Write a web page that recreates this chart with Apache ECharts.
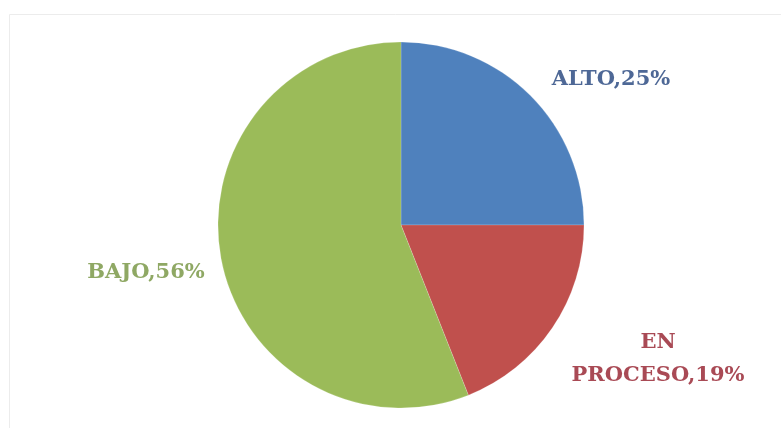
<!DOCTYPE html>
<html>
<head>
<meta charset="utf-8">
<script src="https://cdn.jsdelivr.net/npm/echarts@6/dist/echarts.min.js"></script>
<style>html,body{margin:0;padding:0;background:#fff;}#c{width:781px;height:428px;}</style>
</head>
<body>
<div id="c"></div>
<script>
var categories = ['ALTO', 'EN PROCESO', 'BAJO'];
var values = [25, 19, 56];
var sliceColors = ['#4F81BD', '#C0504D', '#9BBB59'];
var labelColors = ['#4E6896', '#A94A55', '#8FA864'];

var labelPos = [[611, 80], [658, 359], [146, 273]];

var chart = echarts.init(document.getElementById('c'));
chart.setOption({
  animation: false,
  backgroundColor: '#fff',
  graphic: [{
    type: 'rect',
    shape: { x: 9.5, y: 14.5, width: 800, height: 500 },
    style: { fill: 'none', stroke: '#ececec', lineWidth: 1 },
    silent: true
  }],
  series: [{
    type: 'pie',
    center: [401, 225],
    radius: [0, 183],
    startAngle: 90,
    clockwise: true,
    avoidLabelOverlap: false,
    itemStyle: { borderColor: 'rgba(255,255,255,0.35)', borderWidth: 0.5 },
    data: categories.map(function (c, i) {
      return {
        name: c, value: values[i],
        itemStyle: { color: sliceColors[i] },
        label: { color: labelColors[i] }
      };
    }),
    label: {
      show: true,
      position: 'outside',
      fontFamily: '"DejaVu Serif", serif',
      fontWeight: 'bold',
      fontSize: 21,
      lineHeight: 33,
      align: 'center',
      formatter: function (p) {
        return p.name.replace(' ', '\n') + ',' + Math.round(p.percent) + '%';
      }
    },
    labelLine: { show: false },
    labelLayout: function (p) {
      var pos = labelPos[p.dataIndex];
      return { x: pos[0], y: pos[1], align: 'center', verticalAlign: 'middle' };
    }
  }]
});
</script>
</body>
</html>
